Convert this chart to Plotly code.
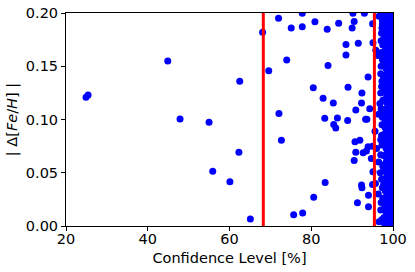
import plotly.graph_objects as go

# Sparse points (confidence level %, |Δ[Fe/H]|)
conf_sparse = [24.9, 25.4, 44.9, 47.9, 55.0, 55.9, 60.1, 62.3, 62.5, 65.1,
               68.1, 69.6, 72.0, 72.1, 72.7, 74.0, 75.1, 75.7, 77.8, 77.8,
               77.9, 80.5, 80.6, 80.9, 82.9, 83.3, 83.4, 83.9, 84.1, 85.4,
               85.5, 86.0, 86.4, 86.7, 88.5, 88.5, 88.9, 89.0, 90.0, 90.2,
               90.5, 90.5, 90.7, 90.9, 90.9, 91.3, 91.5, 91.9, 92.3, 92.3,
               92.4, 92.4, 92.7, 93.0, 93.3, 93.6, 93.5, 93.9, 93.9, 94.0,
               94.0, 94.3, 94.7, 95.0, 95.1, 95.0, 95.1, 95.0]
dfeh_sparse = [0.1208, 0.1230, 0.1549, 0.1005, 0.0974, 0.0515, 0.0415, 0.0693, 0.1358, 0.0066,
               0.1820, 0.1458, 0.1950, 0.1056, 0.0806, 0.1558, 0.1858, 0.0106, 0.1998, 0.1870,
               0.0122, 0.1299, 0.0269, 0.1918, 0.1199, 0.1012, 0.0409, 0.1848, 0.1508, 0.1155,
               0.0953, 0.0920, 0.1015, 0.1904, 0.1705, 0.1605, 0.0990, 0.1302, 0.1860, 0.1998,
               0.1920, 0.0615, 0.0790, 0.1090, 0.0693, 0.0218, 0.1717, 0.0806, 0.1155, 0.0384,
               0.1249, 0.0359, 0.0687, 0.1998, 0.1002, 0.1002, 0.0705, 0.1399, 0.0743, 0.0288,
               0.0181, 0.1100, 0.0634, 0.1900, 0.1720, 0.0749, 0.0509, 0.0390]

# Fringe just right of the 2-sigma line
conf_fringe = [96.6, 97.4, 97.2, 95.8, 96.3, 97.1, 97.6, 96.8, 96.5, 97.0,
               96.0, 96.5, 95.7, 96.9, 97.2, 96.4, 97.0, 96.6, 95.6, 97.3]
dfeh_fringe = [0.197, 0.189, 0.181, 0.165, 0.160, 0.150, 0.1414, 0.115, 0.105, 0.125,
               0.0728, 0.060, 0.040, 0.050, 0.085, 0.030, 0.015, 0.004, 0.089, 0.095]
conf_f = [97.3, 97.1, 97.4, 97.2, 97.5, 97.0, 97.3, 97.4, 97.1, 97.5,
          97.2, 97.3, 97.0, 97.4, 97.2, 97.5, 97.1, 97.3, 97.4, 97.2,
          97.5, 97.0]
dfeh_f = [0.006, 0.022, 0.036, 0.044, 0.056, 0.067, 0.076, 0.102, 0.110, 0.118,
          0.131, 0.136, 0.143, 0.156, 0.163, 0.170, 0.174, 0.186, 0.193, 0.199,
          0.026, 0.081]

# Dense strip near 100 %
conf_a = [99.9, 99.7, 100.0, 99.8, 99.6, 99.9, 99.7, 100.0, 99.8, 99.9,
          99.6, 99.8, 100.0, 99.7, 99.9, 99.8, 99.6, 100.0, 99.9, 99.7,
          99.8, 100.0, 99.6, 99.9, 99.7, 99.8, 100.0, 99.9, 99.6, 99.8,
          99.7, 100.0, 99.9, 99.8, 99.6, 99.9, 99.7, 100.0, 99.8, 99.9]
dfeh_a = [0.002, 0.007, 0.012, 0.017, 0.022, 0.027, 0.032, 0.037, 0.042, 0.047,
          0.052, 0.057, 0.062, 0.067, 0.072, 0.077, 0.082, 0.087, 0.092, 0.097,
          0.102, 0.107, 0.112, 0.117, 0.122, 0.127, 0.132, 0.137, 0.142, 0.147,
          0.152, 0.157, 0.162, 0.167, 0.172, 0.177, 0.182, 0.187, 0.192, 0.197]
conf_d = [99.4, 99.3, 99.5, 99.4, 99.3, 99.5, 99.4, 99.3, 99.5, 99.4,
          99.3, 99.5, 99.4, 99.3, 99.5, 99.4, 99.3, 99.5, 99.4, 99.3,
          99.5, 99.4, 99.3, 99.5, 99.4, 99.3, 99.5, 99.4, 99.3, 99.5,
          99.4, 99.3, 99.5, 99.4, 99.3, 99.5, 99.4, 99.3, 99.5, 99.4]
dfeh_d = [0.000, 0.005, 0.010, 0.015, 0.020, 0.025, 0.030, 0.035, 0.040, 0.045,
          0.050, 0.055, 0.060, 0.065, 0.070, 0.075, 0.080, 0.085, 0.090, 0.095,
          0.100, 0.105, 0.110, 0.115, 0.120, 0.125, 0.130, 0.135, 0.140, 0.145,
          0.150, 0.155, 0.160, 0.165, 0.170, 0.175, 0.180, 0.185, 0.190, 0.195]
conf_b = [98.9, 99.1, 98.7, 99.0, 98.8, 99.2, 98.6, 98.9, 99.1, 98.8,
          99.0, 98.7, 99.2, 98.9, 98.6, 99.0, 98.8, 99.1, 98.7, 98.9,
          99.2, 98.8, 99.0, 98.6, 98.9, 99.1, 98.7, 99.0, 98.8, 99.2,
          98.9, 98.7, 99.1, 98.8, 99.0, 98.6, 98.9]
dfeh_b = [0.004, 0.010, 0.015, 0.021, 0.026, 0.031, 0.036, 0.041, 0.047, 0.053,
          0.058, 0.064, 0.069, 0.074, 0.080, 0.085, 0.090, 0.096, 0.101, 0.106,
          0.112, 0.118, 0.123, 0.129, 0.134, 0.140, 0.146, 0.151, 0.156, 0.161,
          0.167, 0.172, 0.178, 0.183, 0.189, 0.194, 0.199]
conf_e = [98.4, 98.5, 98.3, 98.4, 98.5, 98.3, 98.4, 98.5, 98.3, 98.4,
          98.5, 98.3, 98.4, 98.5, 98.3, 98.4, 98.5, 98.3, 98.4, 98.5,
          98.3, 98.4, 98.5, 98.3, 98.4, 98.5, 98.3, 98.4, 98.5, 98.3,
          98.4, 98.5, 98.3, 98.4]
dfeh_e = [0.003, 0.009, 0.016, 0.024, 0.029, 0.035, 0.043, 0.049, 0.055, 0.061,
          0.068, 0.073, 0.078, 0.084, 0.091, 0.098, 0.104, 0.110, 0.116, 0.122,
          0.128, 0.136, 0.142, 0.148, 0.154, 0.160, 0.166, 0.171, 0.177, 0.182,
          0.187, 0.192, 0.196, 0.200]
conf_c = [98.0, 97.8, 98.2, 97.9, 98.1, 97.7, 98.3, 97.9, 98.0, 97.8,
          98.2, 97.7, 98.0, 98.1, 97.9, 98.2, 97.8, 98.0, 97.7, 98.1,
          97.9, 98.2, 97.8, 98.0, 97.6, 98.1]
dfeh_c = [0.001, 0.008, 0.014, 0.020, 0.033, 0.039, 0.045, 0.052, 0.058, 0.066,
          0.079, 0.086, 0.093, 0.099, 0.108, 0.119, 0.126, 0.133, 0.139, 0.152,
          0.158, 0.165, 0.176, 0.184, 0.191, 0.198]

# Vertical reference lines (1 sigma, 2 sigma confidence)
sigma_levels = [68.27, 95.45]

x_ticks = [20, 40, 60, 80, 100]
y_ticks = [0.00, 0.05, 0.10, 0.15, 0.20]

conf_all = conf_sparse + conf_fringe + conf_f + conf_a + conf_d + conf_b + conf_e + conf_c
dfeh_all = dfeh_sparse + dfeh_fringe + dfeh_f + dfeh_a + dfeh_d + dfeh_b + dfeh_e + dfeh_c

fig = go.Figure()
fig.add_trace(go.Scatter(
    x=conf_all, y=dfeh_all, mode="markers",
    marker=dict(color="#0000ff", size=7, line=dict(width=0)),
    cliponaxis=True, showlegend=False, hoverinfo="skip",
))
for lvl in sigma_levels:
    fig.add_trace(go.Scatter(
        x=[lvl, lvl], y=[0.0, 0.2], mode="lines",
        line=dict(color="#ff0000", width=3), showlegend=False, hoverinfo="skip",
    ))

font = dict(family="DejaVu Sans", size=14.5, color="black")
axis_common = dict(
    showgrid=False, zeroline=False, showline=True, mirror=True,
    linecolor="black", linewidth=1, ticks="outside", ticklen=4,
    tickcolor="black", tickwidth=1, tickfont=font, automargin=False,
)
fig.update_xaxes(range=[20, 100], tickvals=x_ticks, ticklabelstandoff=-4,
                 title=dict(text="Confidence Level [%]", font=font, standoff=6),
                 **axis_common)
fig.update_yaxes(range=[0, 0.2], tickvals=y_ticks, tickformat=".2f",
                 title=dict(text="| Δ[<i>Fe</i>/<i>H</i>] |", font=font, standoff=4),
                 **axis_common)
fig.update_layout(
    width=415, height=272,
    margin=dict(l=66, r=21.5, t=12.5, b=46),
    paper_bgcolor="white", plot_bgcolor="white",
    font=font,
)
fig.write_html("out.html", config={"displayModeBar": False},
               post_script="document.body.style.margin='0';document.body.style.padding='0';")
